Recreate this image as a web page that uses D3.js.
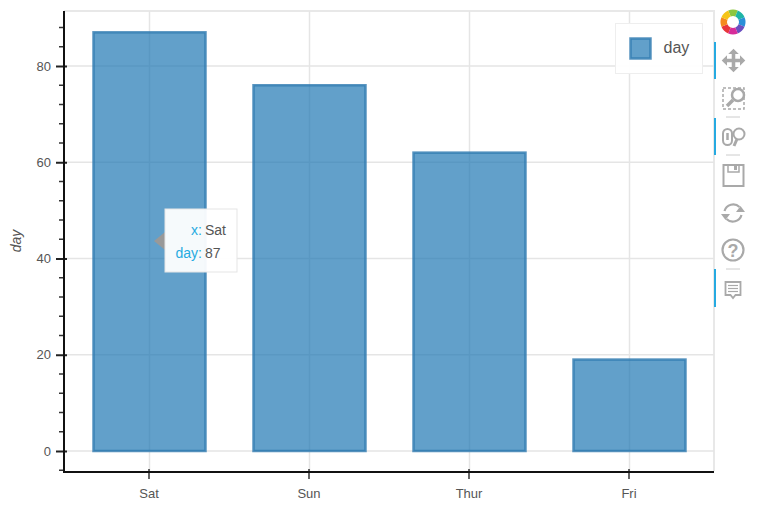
<!DOCTYPE html>
<html>
<head>
<meta charset="utf-8">
<script src="https://cdn.jsdelivr.net/npm/d3@7"></script>
<style>
  html, body { margin: 0; padding: 0; background: #fff; }
  text { font-family: "Liberation Sans", Arial, sans-serif; }
</style>
</head>
<body>
<div id="chart"></div>
<script>
const categories = ['Sat', 'Sun', 'Thur', 'Fri'];
const dayValues = [87, 76, 62, 19];
const yTicks = [0, 20, 40, 60, 80];
const yMinorTicks = [-4, 4, 8, 12, 16, 24, 28, 32, 36, 44, 48, 52, 56, 64, 68, 72, 76, 84, 88];
const seriesName = 'day';
const tooltipRows = [['x:', 'Sat'], ['day:', '87']];
const logoColors = ['#8cc63f', '#1fb5a6', '#2a8fd8', '#6a4fc0', '#d62c9a', '#e8353c', '#f58a1f', '#f5c518'];

const width = 762, height = 516;
const frame = { left: 64, right: 714, top: 11, bottom: 471 };
const barColor = '#2f7bb0';
const textColor = '#555';

const svg = d3.select('#chart').append('svg')
  .attr('width', width)
  .attr('height', height)
  .style('display', 'block');

const x = d3.scaleBand().domain(categories).range([69.5, 709.5]).padding(0);
const y = d3.scaleLinear().domain([0, 80]).range([451, 66]);
const barWidth = x.bandwidth() * 0.7;

// Frame and grid
svg.append('path')
  .attr('d', `M${frame.left},${frame.top}H${frame.right}V${frame.bottom}`)
  .attr('fill', 'none').attr('stroke', '#e8e8e8').attr('stroke-width', 2);

svg.selectAll('.gridx').data(categories).enter().append('line')
  .attr('x1', d => x(d) + x.bandwidth() / 2)
  .attr('x2', d => x(d) + x.bandwidth() / 2)
  .attr('y1', frame.top).attr('y2', frame.bottom)
  .attr('stroke', '#e5e5e5').attr('stroke-width', 1.5);

svg.selectAll('.gridy').data(yTicks).enter().append('line')
  .attr('x1', frame.left).attr('x2', frame.right)
  .attr('y1', d => y(d)).attr('y2', d => y(d))
  .attr('stroke', '#e5e5e5').attr('stroke-width', 1.5);

// Bars
svg.selectAll('.bar').data(dayValues).enter().append('rect')
  .attr('x', (d, i) => x(categories[i]) + (x.bandwidth() - barWidth) / 2)
  .attr('y', d => y(d))
  .attr('width', barWidth)
  .attr('height', d => y(0) - y(d))
  .attr('fill', '#1f77b4').attr('fill-opacity', 0.7)
  .attr('stroke', barColor).attr('stroke-opacity', 0.8).attr('stroke-width', 2.5);

// Y axis
const yAxis = svg.append('g').call(
  d3.axisLeft(y).tickValues(yTicks).tickSizeOuter(0).tickPadding(0)
);
yAxis.attr('transform', `translate(${frame.left},0)`);
yAxis.select('.domain').remove();
yAxis.selectAll('line').attr('x1', 3).attr('x2', -8).attr('stroke', '#222').attr('stroke-width', 2);
yAxis.selectAll('text').attr('x', -13).attr('font-size', 13).attr('fill', textColor)
  .style('font-family', '"Liberation Sans", Arial, sans-serif');

svg.selectAll('.minor').data(yMinorTicks).enter().append('line')
  .attr('x1', frame.left - 5).attr('x2', frame.left)
  .attr('y1', d => y(d)).attr('y2', d => y(d))
  .attr('stroke', '#333').attr('stroke-width', 1.5);

svg.append('line')
  .attr('x1', frame.left).attr('x2', frame.left)
  .attr('y1', frame.top).attr('y2', 473)
  .attr('stroke', '#111').attr('stroke-width', 2);

// X axis
const xAxis = svg.append('g')
  .attr('transform', 'translate(-0.5,472)')
  .call(d3.axisBottom(x).tickSizeOuter(0).tickPadding(0));
xAxis.select('.domain').remove();
xAxis.selectAll('line').attr('y1', -3).attr('y2', 7).attr('stroke', '#333').attr('stroke-width', 1.5);
xAxis.selectAll('text').attr('y', 17).attr('font-size', 13).attr('fill', textColor)
  .style('font-family', '"Liberation Sans", Arial, sans-serif');

svg.append('line')
  .attr('x1', frame.left).attr('x2', frame.right)
  .attr('y1', 472).attr('y2', 472)
  .attr('stroke', '#111').attr('stroke-width', 2);

// Axis label
svg.append('text')
  .attr('transform', 'translate(21,241) rotate(-90)')
  .attr('text-anchor', 'middle')
  .attr('font-size', 14).attr('font-style', 'italic').attr('fill', textColor)
  .text(seriesName);

// Legend
const legend = svg.append('g').attr('transform', 'translate(615.5,23.5)');
legend.append('rect')
  .attr('x', 0).attr('y', 0).attr('width', 87).attr('height', 50)
  .attr('fill', '#fff').attr('fill-opacity', 0.95)
  .attr('stroke', '#eeeeee').attr('stroke-width', 1);
legend.append('rect')
  .attr('x', 15).attr('y', 15).attr('width', 20).attr('height', 20)
  .attr('fill', '#1f77b4').attr('fill-opacity', 0.7)
  .attr('stroke', barColor).attr('stroke-opacity', 0.8).attr('stroke-width', 2.5);
legend.append('text')
  .attr('x', 48).attr('y', 29)
  .attr('font-size', 16).attr('fill', textColor)
  .text(seriesName);

// Tooltip
const tip = svg.append('g').attr('transform', 'translate(165,209)');
tip.append('path')
  .attr('d', 'M0,23L-11,32L0,41Z')
  .attr('fill', '#999');
tip.append('rect')
  .attr('x', 0).attr('y', 0).attr('width', 72).attr('height', 63)
  .attr('fill', '#fff').attr('fill-opacity', 0.94)
  .attr('stroke', '#e5e5e5').attr('stroke-width', 1);
tooltipRows.forEach((row, i) => {
  tip.append('text')
    .attr('x', 37).attr('y', 26 + i * 23)
    .attr('text-anchor', 'end')
    .attr('font-size', 14).attr('fill', '#26aae1')
    .text(row[0]);
  tip.append('text')
    .attr('x', 40).attr('y', 26 + i * 23)
    .attr('font-size', 14).attr('fill', textColor)
    .text(row[1]);
});

// Toolbar
const toolbar = svg.append('g');
const iconGray = '#a9a9a9';

const logo = toolbar.append('g').attr('transform', 'translate(733,22) rotate(-22.5)');
logo.selectAll('path')
  .data(d3.pie().value(1).sort(null)(logoColors))
  .enter().append('path')
  .attr('d', d3.arc().innerRadius(6).outerRadius(12.5))
  .attr('fill', d => d.data);

[[42, 79], [118, 155], [269, 307]].forEach(s => {
  toolbar.append('rect')
    .attr('x', 714).attr('y', s[0]).attr('width', 2).attr('height', s[1] - s[0])
    .attr('fill', '#26aae1');
});

[[726, 740, 117], [726, 740, 155], [726, 740, 269]].forEach(s => {
  toolbar.append('line')
    .attr('x1', s[0]).attr('x2', s[1]).attr('y1', s[2]).attr('y2', s[2])
    .attr('stroke', '#ccc').attr('stroke-width', 1);
});

// pan
toolbar.append('path')
  .attr('transform', 'translate(733.5,60.5) scale(1.18) translate(-733,-60)')
  .attr('d', 'M733,50l-4.5,4.5h3v4h-4v-3l-4.5,4.5l4.5,4.5v-3h4v4h-3l4.5,4.5l4.5,-4.5h-3v-4h4v3l4.5,-4.5l-4.5,-4.5v3h-4v-4h3z')
  .attr('fill', iconGray);

// box zoom
toolbar.append('rect')
  .attr('x', 723).attr('y', 88).attr('width', 21).attr('height', 21)
  .attr('fill', 'none').attr('stroke', iconGray).attr('stroke-width', 1.5).attr('stroke-dasharray', '3,2');
toolbar.append('circle')
  .attr('cx', 738).attr('cy', 95).attr('r', 6)
  .attr('fill', '#fff').attr('stroke', iconGray).attr('stroke-width', 2.5);
toolbar.append('line')
  .attr('x1', 733).attr('y1', 100).attr('x2', 727).attr('y2', 106)
  .attr('stroke', iconGray).attr('stroke-width', 3.5);

// wheel zoom
toolbar.append('rect')
  .attr('x', 723).attr('y', 129).attr('width', 9).attr('height', 16).attr('rx', 4.5)
  .attr('fill', 'none').attr('stroke', iconGray).attr('stroke-width', 2);
toolbar.append('line')
  .attr('x1', 727.5).attr('x2', 727.5).attr('y1', 133).attr('y2', 140)
  .attr('stroke', iconGray).attr('stroke-width', 2.5);
toolbar.append('circle')
  .attr('cx', 739).attr('cy', 134).attr('r', 5.5)
  .attr('fill', 'none').attr('stroke', iconGray).attr('stroke-width', 2);
toolbar.append('line')
  .attr('x1', 737).attr('y1', 139).attr('x2', 734).attr('y2', 146)
  .attr('stroke', iconGray).attr('stroke-width', 3);

// save
toolbar.append('rect')
  .attr('x', 723.5).attr('y', 165).attr('width', 20).attr('height', 21)
  .attr('fill', 'none').attr('stroke', iconGray).attr('stroke-width', 2);
toolbar.append('path')
  .attr('d', 'M728,165v7h11v-7')
  .attr('fill', 'none').attr('stroke', iconGray).attr('stroke-width', 1.5);
toolbar.append('rect')
  .attr('x', 734).attr('y', 166).attr('width', 3).attr('height', 4).attr('fill', iconGray);

// reset
toolbar.append('path')
  .attr('d', 'M724.5,211a9,9 0 0 1 15,-4M741.5,215a9,9 0 0 1 -15,4')
  .attr('fill', 'none').attr('stroke', iconGray).attr('stroke-width', 2.2);
toolbar.append('path').attr('d', 'M745,212h-9l4.5,-6z').attr('fill', iconGray);
toolbar.append('path').attr('d', 'M721,214h9l-4.5,6z').attr('fill', iconGray);

// help
toolbar.append('circle')
  .attr('cx', 733).attr('cy', 250).attr('r', 10.5)
  .attr('fill', 'none').attr('stroke', iconGray).attr('stroke-width', 2.2);
toolbar.append('text')
  .attr('x', 733).attr('y', 256.5).attr('text-anchor', 'middle')
  .attr('font-size', 18).attr('font-weight', 'bold').attr('fill', iconGray)
  .text('?');

// hover
toolbar.append('path')
  .attr('d', 'M725.5,282h15v13h-5l-2.5,3l-2.5,-3h-5z')
  .attr('fill', 'none').attr('stroke', iconGray).attr('stroke-width', 1.8);
[285.5, 288.5, 291.5].forEach(ly => {
  toolbar.append('line')
    .attr('x1', 728).attr('x2', 738).attr('y1', ly).attr('y2', ly)
    .attr('stroke', iconGray).attr('stroke-width', 1.2);
});
</script>
</body>
</html>
